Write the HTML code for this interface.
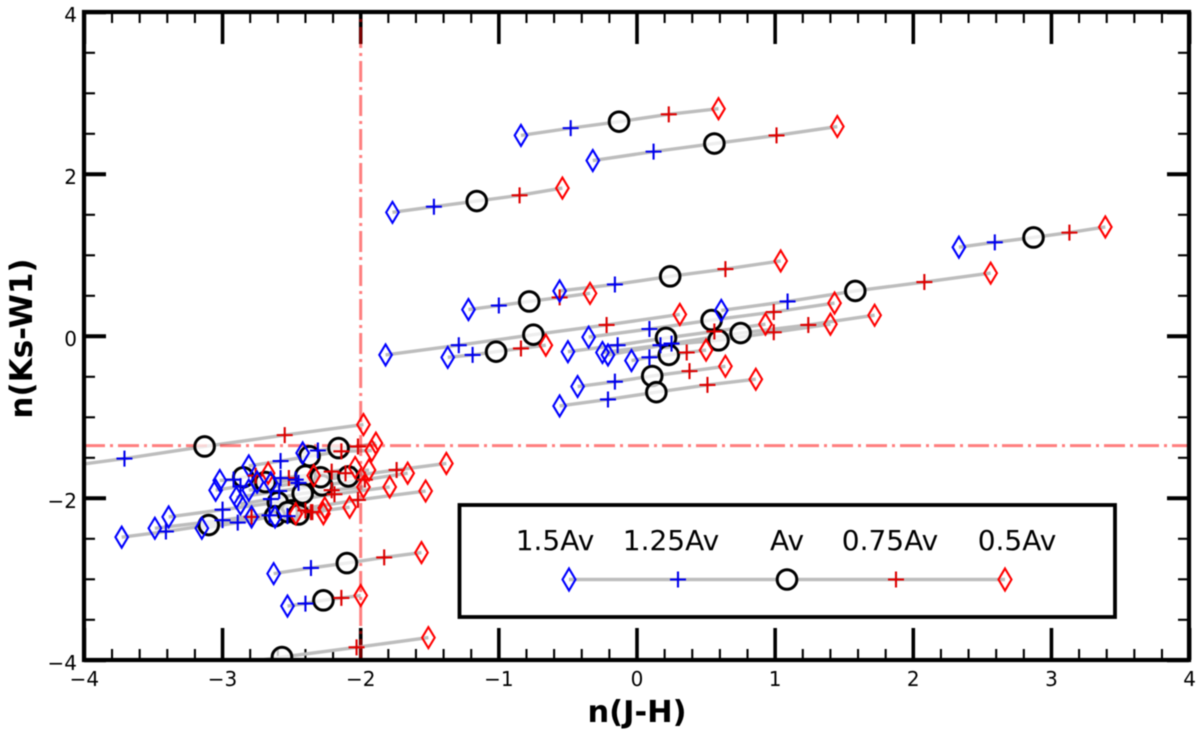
<!DOCTYPE html>
<html lang="en">
<head>
<meta charset="utf-8">
<title>n(J-H) vs n(Ks-W1)</title>
<style>
html,body{margin:0;padding:0;background:#fff;width:1200px;height:735px;overflow:hidden}
svg{display:block;filter:blur(0.5px)}
text{font-family:"DejaVu Sans","Liberation Sans",sans-serif;fill:#000}
</style>
</head>
<body>
<svg id="chart" width="1200" height="735" viewBox="0 0 1200 735" xmlns="http://www.w3.org/2000/svg">
<defs><clipPath id="plot-clip"><rect x="84" y="12" width="1105" height="648"/></clipPath></defs>
<rect x="0" y="0" width="1200" height="735" fill="#fff"/>
<g id="ticks"></g>
<g id="track-lines" clip-path="url(#plot-clip)"></g>
<g id="guides" clip-path="url(#plot-clip)"></g>
<g id="track-circles" clip-path="url(#plot-clip)"></g>
<g id="track-markers" clip-path="url(#plot-clip)"></g>
<rect x="84" y="12" width="1105" height="648" fill="none" stroke="#000" stroke-width="4.2"/>
<g id="tick-labels"></g>
<text x="637" y="722" text-anchor="middle" font-size="30.5" font-weight="700">n(J-H)</text>
<text transform="translate(32,338.5) rotate(-90)" text-anchor="middle" font-size="31" font-weight="700">n(Ks-W1)</text>
<g>
  <rect x="459.5" y="505" width="655.5" height="112" fill="#fff" stroke="#000" stroke-width="3.8"/>
  <text x="555" y="550" text-anchor="middle" font-size="28">1.5Av</text>
  <text x="671" y="550" text-anchor="middle" font-size="28">1.25Av</text>
  <text x="787" y="550" text-anchor="middle" font-size="28">Av</text>
  <text x="890" y="550" text-anchor="middle" font-size="28">0.75Av</text>
  <text x="1017" y="550" text-anchor="middle" font-size="28">0.5Av</text>
  <line x1="569" y1="579.5" x2="1005" y2="579.5" stroke="#bdbdbd" stroke-width="3.4"/>
  <polygon points="569,568.5 575.5,579.5 569,590.5 562.5,579.5" fill="none" stroke="#0000ff" stroke-width="2.1"/>
  <path d="M670 579.5H686M678 571.5V587.5" fill="none" stroke="#0000ee" stroke-width="2.1"/>
  <circle cx="787" cy="579.5" r="9.8" fill="#fff" stroke="#000" stroke-width="3"/>
  <path d="M888 579.5H904M896 571.5V587.5" fill="none" stroke="#dd0000" stroke-width="2.1"/>
  <polygon points="1005,568.5 1011.5,579.5 1005,590.5 998.5,579.5" fill="none" stroke="#ff0000" stroke-width="2.1"/>
</g>
</svg>
<script>
// Tick values
const xMajorTicks = [-4, -3, -2, -1, 0, 1, 2, 3, 4];
const yMajorTicks = [-4, -2, 0, 2, 4];
const xTickLabels = ['\u22124', '\u22123', '\u22122', '\u22121', '0', '1', '2', '3', '4'];
const yTickLabels = ['\u22124', '\u22122', '0', '2', '4'];
const xMinorStep = [0.2];
const yMinorStep = [0.5];
// Guide positions
const guideX = [-2.0];
const guideY = [-1.35];
// Track points, one entry per source: 1.5Av
const x150 = [-0.84,-0.32,-1.77,2.33,-1.82,0.61,-1.22,-0.56,-1.37,-0.35,-0.50,-0.25,-0.04,-0.21,-0.43,-0.56,-4.29,-3.63,-2.63,-2.53,-2.81,-2.90,-3.39,-3.49,-3.73,-2.42,-2.81,-3.02,-3.05,-2.75,-2.65,-2.87,-3.15,-2.79,-2.62];
const y150 = [2.48,2.17,1.53,1.10,-0.23,0.32,0.33,0.56,-0.26,-0.01,-0.19,-0.20,-0.30,-0.23,-0.62,-0.86,-1.64,-4.21,-2.93,-3.33,-1.90,-1.99,-2.23,-2.37,-2.48,-1.44,-1.60,-1.78,-1.90,-1.80,-1.81,-2.07,-2.37,-2.23,-2.23];
// 1.25Av
const x125 = [-0.48,0.12,-1.47,2.59,-1.29,1.09,-1.00,-0.16,-1.19,0.09,-0.14,0.17,0.09,0.25,-0.16,-0.21,-3.71,-3.10,-2.36,-2.40,-2.45,-2.59,-3.00,-3.00,-3.41,-2.31,-2.58,-2.92,-2.87,-2.58,-2.47,-2.65,-2.89,-2.66,-2.53];
const y125 = [2.57,2.28,1.60,1.16,-0.11,0.43,0.38,0.64,-0.23,0.09,-0.11,-0.11,-0.26,-0.09,-0.56,-0.78,-1.51,-4.09,-2.86,-3.30,-1.81,-1.91,-2.14,-2.27,-2.41,-1.41,-1.54,-1.77,-1.85,-1.75,-1.77,-2.01,-2.30,-2.21,-2.22];
// Av
const x100 = [-0.13,0.56,-1.16,2.87,-0.75,1.58,-0.78,0.24,-1.02,0.54,0.21,0.59,0.23,0.75,0.11,0.14,-3.13,-2.57,-2.10,-2.27,-2.09,-2.28,-2.60,-2.50,-3.10,-2.16,-2.37,-2.85,-2.69,-2.40,-2.29,-2.42,-2.62,-2.53,-2.45];
const y100 = [2.65,2.38,1.67,1.22,0.02,0.56,0.43,0.74,-0.19,0.20,-0.02,-0.05,-0.23,0.04,-0.49,-0.69,-1.36,-3.96,-2.80,-3.26,-1.73,-1.84,-2.05,-2.15,-2.33,-1.38,-1.48,-1.74,-1.80,-1.72,-1.74,-1.94,-2.22,-2.17,-2.20];
// 0.75Av
const x075 = [0.23,1.01,-0.85,3.13,-0.22,2.08,-0.56,0.64,-0.84,0.99,0.56,0.99,0.36,1.24,0.38,0.51,-2.55,-2.03,-1.83,-2.14,-1.74,-1.97,-2.19,-2.02,-2.79,-2.02,-2.14,-2.76,-2.52,-2.21,-2.11,-2.21,-2.35,-2.40,-2.36];
const y075 = [2.74,2.48,1.74,1.28,0.14,0.67,0.48,0.83,-0.15,0.30,0.06,0.05,-0.20,0.14,-0.43,-0.60,-1.22,-3.84,-2.73,-3.23,-1.65,-1.77,-1.95,-2.02,-2.23,-1.36,-1.42,-1.72,-1.75,-1.67,-1.69,-1.90,-2.17,-2.15,-2.17];
// 0.5Av
const x050 = [0.59,1.45,-0.54,3.39,0.31,2.56,-0.34,1.04,-0.66,1.43,0.93,1.40,0.50,1.72,0.64,0.86,-1.98,-1.51,-1.56,-2.00,-1.38,-1.66,-1.79,-1.53,-2.47,-1.89,-1.92,-2.67,-2.34,-2.04,-1.94,-1.98,-2.08,-2.26,-2.27];
const y050 = [2.81,2.59,1.83,1.35,0.27,0.78,0.53,0.93,-0.11,0.41,0.15,0.15,-0.17,0.26,-0.37,-0.53,-1.09,-3.72,-2.67,-3.20,-1.57,-1.69,-1.86,-1.91,-2.19,-1.32,-1.41,-1.69,-1.72,-1.62,-1.65,-1.86,-2.11,-2.12,-2.19];

const NS = 'http://www.w3.org/2000/svg';
const xScale = v => 637 + v * 138.15;
const yScale = v => 336.3 - v * 81;

function make(tag, attrs, parent) {
  const el = document.createElementNS(NS, tag);
  for (const k in attrs) el.setAttribute(k, attrs[k]);
  parent.appendChild(el);
  return el;
}

const tickGroup = document.getElementById('ticks');
const labelGroup = document.getElementById('tick-labels');
const lineGroup = document.getElementById('track-lines');
const circleGroup = document.getElementById('track-circles');
const markerGroup = document.getElementById('track-markers');
const guideGroup = document.getElementById('guides');

function tickLine(x1, y1, x2, y2, width, name) {
  const el = make('line', {x1: x1, y1: y1, x2: x2, y2: y2, stroke: '#000', 'stroke-width': width}, tickGroup);
  
  
}

xMajorTicks.forEach(function (v) {
  const p = xScale(v);
  tickLine(p, 660, p, 628, 3.6, 'x-major-tick');
  tickLine(p, 12, p, 44, 3.6, 'x-major-tick-top');
});
yMajorTicks.forEach(function (v) {
  const p = yScale(v);
  tickLine(84, p, 106, p, 4, 'y-major-tick');
  tickLine(1189, p, 1167, p, 4, 'y-major-tick-right');
});
for (let i = -20; i <= 20; i++) {
  if (i % 5 === 0) continue;
  const p = xScale(i * xMinorStep[0]);
  tickLine(p, 660, p, 649, 2.1, 'x-minor-tick');
  tickLine(p, 12, p, 23, 2.1, 'x-minor-tick-top');
}
for (let i = -8; i <= 8; i++) {
  if (i % 4 === 0) continue;
  const p = yScale(i * yMinorStep[0]);
  tickLine(84, p, 95, p, 2.1, 'y-minor-tick');
  tickLine(1189, p, 1178, p, 2.1, 'y-minor-tick-right');
}

xMajorTicks.forEach(function (v, i) {
  const t = make('text', {x: xScale(v), y: 686, 'text-anchor': 'middle', 'font-size': 20}, labelGroup);
  t.textContent = xTickLabels[i];
  
  
});
yMajorTicks.forEach(function (v, i) {
  const t = make('text', {x: 77, y: yScale(v) + 9.5, 'text-anchor': 'end', 'font-size': 20}, labelGroup);
  t.textContent = yTickLabels[i];
  
  
});

function diamond(cx, cy, color, parent) {
  const pts = [[cx, cy - 10.5], [cx + 6.3, cy], [cx, cy + 10.5], [cx - 6.3, cy]].map(function (p) { return p.join(','); }).join(' ');
  return make('polygon', {points: pts, fill: 'none', stroke: color, 'stroke-width': 2.1}, parent);
}
function plus(cx, cy, color, parent) {
  return make('path', {d: 'M' + (cx - 8) + ' ' + cy + 'H' + (cx + 8) + 'M' + cx + ' ' + (cy - 8) + 'V' + (cy + 8), fill: 'none', stroke: color, 'stroke-width': 2.1}, parent);
}

x150.forEach(function (_, i) {
  const xs = [x150[i], x125[i], x100[i], x075[i], x050[i]].map(xScale);
  const ys = [y150[i], y125[i], y100[i], y075[i], y050[i]].map(yScale);

  const line = make('polyline', {points: xs.map(function (x, k) { return x + ',' + ys[k]; }).join(' '), fill: 'none', stroke: '#bdbdbd', 'stroke-width': 3.4}, lineGroup);
  
  

  const c = make('circle', {cx: xs[2], cy: ys[2], r: 9.8, fill: '#fff', 'fill-opacity': 0.75, stroke: '#000', 'stroke-width': 3}, circleGroup);
  
  

  const d1 = diamond(xs[0], ys[0], '#0000ff', markerGroup);
  
  

  const p1 = plus(xs[1], ys[1], '#0000ee', markerGroup);
  
  

  const p2 = plus(xs[3], ys[3], '#dd0000', markerGroup);
  
  

  const d2 = diamond(xs[4], ys[4], '#ff0000', markerGroup);
  
  
});

const dash = '21 5 3 5';
const gv = make('line', {x1: xScale(guideX[0]), y1: 660, x2: xScale(guideX[0]), y2: 12, stroke: '#ff0000', 'stroke-opacity': 0.5, 'stroke-width': 3, 'stroke-dasharray': dash}, guideGroup);



const gh = make('line', {x1: 84, y1: yScale(guideY[0]), x2: 1189, y2: yScale(guideY[0]), stroke: '#ff0000', 'stroke-opacity': 0.5, 'stroke-width': 3, 'stroke-dasharray': dash}, guideGroup);


</script>
</body>
</html>
